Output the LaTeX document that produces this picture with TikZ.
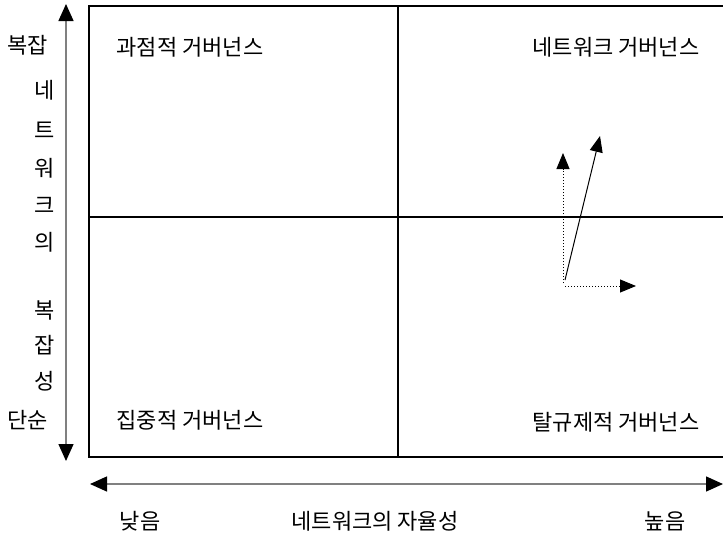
\documentclass[tikz,border=0pt]{standalone}
\usepackage{fontspec}
\newfontfamily\kr{Noto Sans CJK KR}
\usetikzlibrary{positioning, arrows.meta}

\begin{document}
\begin{tikzpicture}[
    x=1pt, y=-1pt,
    every node/.style={font=\kr\fontsize{22}{26}\selectfont, inner sep=0pt},
    grid/.style={line width=1.2pt},
    axis/.style={{Triangle[length=17pt,width=15pt,color=black,fill=black]}-{Triangle[length=17pt,width=15pt,color=black,fill=black]}, line width=1.4pt, draw=black!50},
    move/.style={-{Triangle[length=16pt,width=13pt]}, line width=1pt},
    trend/.style={move, dotted},
]
\useasboundingbox (0,0) rectangle (723,541);

% --- quadrant grid ---
\draw[grid] (723,6) -- (89,6) -- (89,457) -- (723,457);
\draw[grid] (398,6) -- (398,457);
\draw[grid] (89,217) -- (723,217);

% --- quadrant labels ---
\node (q1) at (190,47) {과점적 거버넌스};
\node (q2) at (616,47) {네트워크 거버넌스};
\node (q3) at (190,420) {집중적 거버넌스};
\node (q4) at (616,422) {탈규제적 거버넌스};

% --- vertical axis ---
\coordinate (vtop) at (66,4);
\coordinate (vbot) at (66,461);
\draw[axis] (vbot) -- (vtop);
\node (hi) at (28,45) {복잡};
\node (v1) at (45,90) {네};
\node (v2) at (45,130) {트};
\node (v3) at (45,168) {워};
\node (v4) at (45,205) {크};
\node (v5) at (45,242) {의};
\node (v6) at (45,310) {복};
\node (v7) at (45,345) {잡};
\node (v8) at (45,381) {성};
\node (lo) at (28,420) {단순};

% --- horizontal axis ---
\coordinate (hleft) at (90,484);
\coordinate (hright) at (723,484);
\draw[axis] (hleft) -- (hright);
\node (low) at (140,521) {낮음};
\node (ax) at (375,521) {네트워크의 자율성};
\node (high) at (665,521) {높음};

% --- movement ---
\coordinate (o) at (565,280);
\coordinate (os) at (563,283);
\coordinate (oh) at (565,286);
\coordinate (up) at (563,153);
\coordinate (right) at (636,286);
\coordinate (diag) at (600,136);
\draw[trend] (os) -- (up);
\draw[trend] (oh) -- (right);
\draw[move] (o) -- (diag);

\end{tikzpicture}
\end{document}
